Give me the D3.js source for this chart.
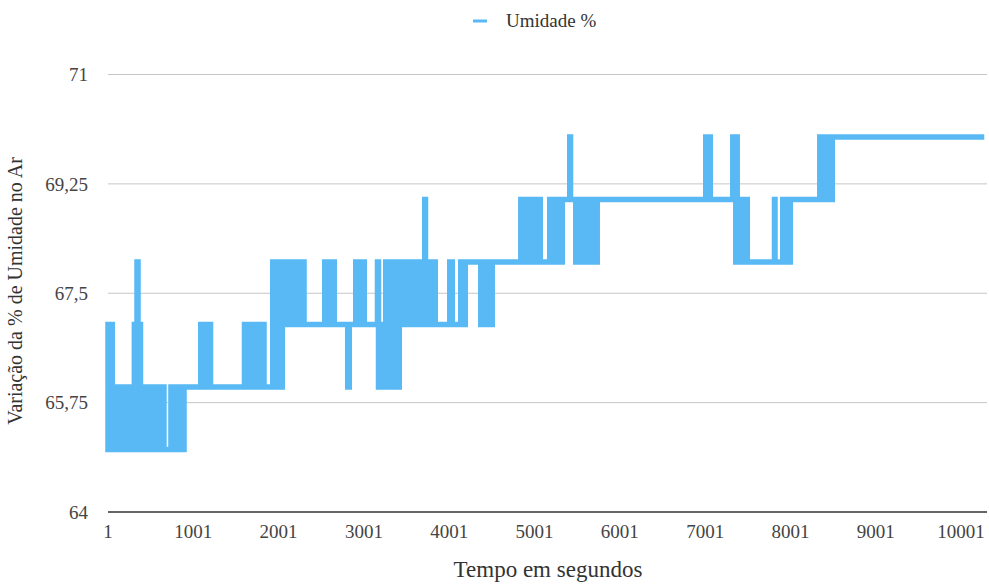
<!DOCTYPE html>
<html><head><meta charset="utf-8">
<script src="https://cdn.jsdelivr.net/npm/d3@7"></script>
<style>body{margin:0;background:#fff}svg{display:block}</style>
</head><body><svg id="c" width="989" height="585"></svg>
<script>
// Envelope of the humidity readings: each segment starts at segStart (s) and holds
// readings between segLow and segHigh (%) until the next segment starts.
const segStart = [1, 51, 310, 341, 353, 382, 657, 739, 892, 1088, 1203, 1601, 1830, 1932, 2044, 2299, 2542, 2653, 2811, 2829, 2905, 3005, 3160, 3172, 3257, 3415, 3714, 3723, 3837, 4007, 4037, 4136, 4189, 4371, 4505, 4840, 5068, 5179, 5326, 5414, 5423, 5484, 5736, 7008, 7061, 7325, 7360, 7377, 7495, 7814, 7820, 7911, 7999, 8345, 8491];
const segLow   = [65, 65, 65, 65, 65, 65, 65, 65, 66, 66, 66, 66, 66, 66, 67, 67, 67, 67, 66, 67, 67, 67, 67, 66, 66, 67, 67, 67, 67, 67, 67, 67, 68, 67, 68, 68, 68, 68, 69, 69, 69, 68, 69, 69, 69, 69, 68, 68, 68, 68, 68, 68, 69, 69, 70];
const segHigh  = [67, 66, 67, 68, 67, 66, 65, 66, 66, 67, 66, 67, 66, 68, 68, 67, 68, 67, 67, 67, 68, 67, 68, 67, 68, 68, 69, 68, 67, 68, 67, 68, 68, 68, 68, 69, 68, 69, 69, 70, 69, 69, 69, 70, 69, 70, 70, 69, 68, 69, 68, 69, 69, 70, 70];
const endTime = 10273;
const axisMax = 10305;
const xTicks = [1, 1001, 2001, 3001, 4001, 5001, 6001, 7001, 8001, 9001, 10001];
const yTicks = [64, 65.75, 67.5, 69.25, 71];
const yTickLabels = ["64", "65,75", "67,5", "69,25", "71"];
const seriesName = "Umidade %";
const xTitle = "Tempo em segundos";
const yTitle = "Variação da % de Umidade no Ar";

const color = "#58b9f4";
const font = "'Liberation Serif', 'Times New Roman', serif";
const svg = d3.select("#c");
const x = d3.scaleLinear().domain([1, axisMax]).range([108, 987]);
const y = d3.scaleLinear().domain([64, 71]).range([512, 74.5]);

// gridlines
svg.append("g").selectAll("line").data(yTicks.filter(v => v !== 64)).join("line")
  .attr("x1", x(1)).attr("x2", x(axisMax))
  .attr("y1", d => y(d)).attr("y2", d => y(d))
  .attr("stroke", "#c6c6c6").attr("stroke-width", 1);

// y labels
svg.append("g").selectAll("text").data(yTicks).join("text")
  .attr("x", 88).attr("y", d => y(d)).attr("dy", "0.35em")
  .attr("text-anchor", "end").attr("font-family", font).attr("font-size", 19)
  .attr("fill", "#444").text((d, i) => yTickLabels[i]);

// data
const pts = segStart.map((t, i) => ({t, lo: segLow[i], hi: segHigh[i]}));
pts.push({t: endTime, lo: segLow[segLow.length - 1], hi: segHigh[segHigh.length - 1]});
const area = d3.area().curve(d3.curveStepAfter)
  .x(d => x(d.t)).y0(d => y(d.lo)).y1(d => y(d.hi));
svg.append("path").datum(pts).attr("d", area)
  .attr("fill", color).attr("stroke", color).attr("stroke-width", 5.5)
  .attr("stroke-linejoin", "miter");

// x axis line
svg.append("line").attr("x1", x(1)).attr("x2", x(axisMax))
  .attr("y1", y(64)).attr("y2", y(64)).attr("stroke", "#333").attr("stroke-width", 1.5);

// x labels
svg.append("g").selectAll("text").data(xTicks).join("text")
  .attr("x", d => x(d)).attr("y", 538)
  .attr("text-anchor", "middle").attr("font-family", font).attr("font-size", 19)
  .attr("fill", "#444").text(d => d);

// titles
svg.append("text").attr("x", 548).attr("y", 577).attr("text-anchor", "middle")
  .attr("font-family", font).attr("font-size", 23).attr("fill", "#333").text(xTitle);
svg.append("text").attr("transform", "translate(22,291) rotate(-90)").attr("text-anchor", "middle")
  .attr("font-family", font).attr("font-size", 20).attr("fill", "#333").text(yTitle);

// legend
svg.append("line").attr("x1", 473).attr("x2", 487).attr("y1", 21).attr("y2", 21)
  .attr("stroke", color).attr("stroke-width", 3);
svg.append("text").attr("x", 506).attr("y", 27).attr("font-family", font).attr("font-size", 19)
  .attr("fill", "#333").text(seriesName);
</script></body></html>
